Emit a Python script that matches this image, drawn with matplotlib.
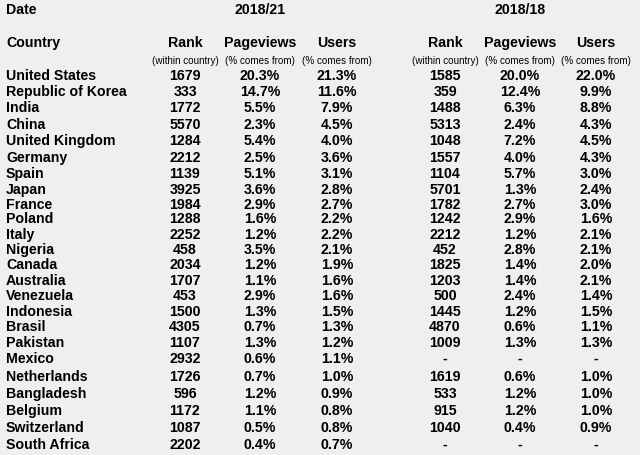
import matplotlib
matplotlib.use("Agg")
import matplotlib.pyplot as plt

# ── data ──────────────────────────────────────────────────────────────────────
COUNTRIES = ["United States", "Republic of Korea", "India", "China", "United Kingdom",
             "Germany", "Spain", "Japan", "France", "Poland", "Italy", "Nigeria",
             "Canada", "Australia", "Venezuela", "Indonesia", "Brasil", "Pakistan",
             "Mexico", "Netherlands", "Bangladesh", "Belgium", "Switzerland",
             "South Africa"]

RANK_21 = ["1679", "333", "1772", "5570", "1284", "2212", "1139", "3925", "1984",
           "1288", "2252", "458", "2034", "1707", "453", "1500", "4305", "1107",
           "2932", "1726", "596", "1172", "1087", "2202"]
PAGEVIEWS_21 = ["20.3%", "14.7%", "5.5%", "2.3%", "5.4%", "2.5%", "5.1%", "3.6%",
                "2.9%", "1.6%", "1.2%", "3.5%", "1.2%", "1.1%", "2.9%", "1.3%",
                "0.7%", "1.3%", "0.6%", "0.7%", "1.2%", "1.1%", "0.5%", "0.4%"]
USERS_21 = ["21.3%", "11.6%", "7.9%", "4.5%", "4.0%", "3.6%", "3.1%", "2.8%",
            "2.7%", "2.2%", "2.2%", "2.1%", "1.9%", "1.6%", "1.6%", "1.5%",
            "1.3%", "1.2%", "1.1%", "1.0%", "0.9%", "0.8%", "0.8%", "0.7%"]

RANK_18 = ["1585", "359", "1488", "5313", "1048", "1557", "1104", "5701", "1782",
           "1242", "2212", "452", "1825", "1203", "500", "1445", "4870", "1009",
           "-", "1619", "533", "915", "1040", "-"]
PAGEVIEWS_18 = ["20.0%", "12.4%", "6.3%", "2.4%", "7.2%", "4.0%", "5.7%", "1.3%",
                "2.7%", "2.9%", "1.2%", "2.8%", "1.4%", "1.4%", "2.4%", "1.2%",
                "0.6%", "1.3%", "-", "0.6%", "1.2%", "1.2%", "0.4%", "-"]
USERS_18 = ["22.0%", "9.9%", "8.8%", "4.3%", "4.5%", "4.3%", "3.0%", "2.4%",
            "3.0%", "1.6%", "2.1%", "2.1%", "2.0%", "2.1%", "1.4%", "1.5%",
            "1.1%", "1.3%", "-", "1.0%", "1.0%", "1.0%", "0.9%", "-"]

DATES = ["2018/21", "2018/18"]
HEADERS = ["Rank", "Pageviews", "Users"]
SUBHEADERS = ["(within country)", "(% comes from)", "(% comes from)"]

# ── layout (pixels) ───────────────────────────────────────────────────────────
W, H = 640, 456
ROW_Y = [76, 92, 108, 125, 141, 158, 174, 190, 205, 219, 235, 250,
         265, 281, 296, 312, 327, 343, 359, 377, 394, 411, 428, 445]
COL_X = [[185, 260, 337], [445, 520, 596]]
BG = "#efefef"
FONT = ["Liberation Sans", "DejaVu Sans"]
FS = 10.2   # pt at dpi 100
FS_SMALL = 7.1

fig = plt.figure(figsize=(W / 100, H / 100), dpi=100, facecolor=BG)
ax = fig.add_axes([0, 0, 1, 1])
ax.set_xlim(0, W)
ax.set_ylim(H, 0)
ax.axis("off")
ax.set_facecolor(BG)


def txt(x, y, s, size=FS, weight="bold", ha="center"):
    # y is the visual centre of capitals -> shift to baseline
    ax.text(x, y + size * 0.36, s, ha=ha, va="baseline", fontsize=size,
            fontweight=weight, family=FONT, color="black")


# header
txt(6, 10, "Date", ha="left")
txt(6, 43, "Country", ha="left")
for cols, date in zip(COL_X, DATES):
    txt(cols[1], 10, date)
    for x, head, sub in zip(cols, HEADERS, SUBHEADERS):
        txt(x, 43, head)
        txt(x, 61, sub, size=FS_SMALL, weight="normal")

# rows
blocks = [(RANK_21, PAGEVIEWS_21, USERS_21), (RANK_18, PAGEVIEWS_18, USERS_18)]
for i, (name, y) in enumerate(zip(COUNTRIES, ROW_Y)):
    txt(6, y, name, ha="left")
    for cols, series in zip(COL_X, blocks):
        for x, vals in zip(cols, series):
            txt(x, y, vals[i])

fig.savefig("out.png", dpi=100, facecolor=BG)
